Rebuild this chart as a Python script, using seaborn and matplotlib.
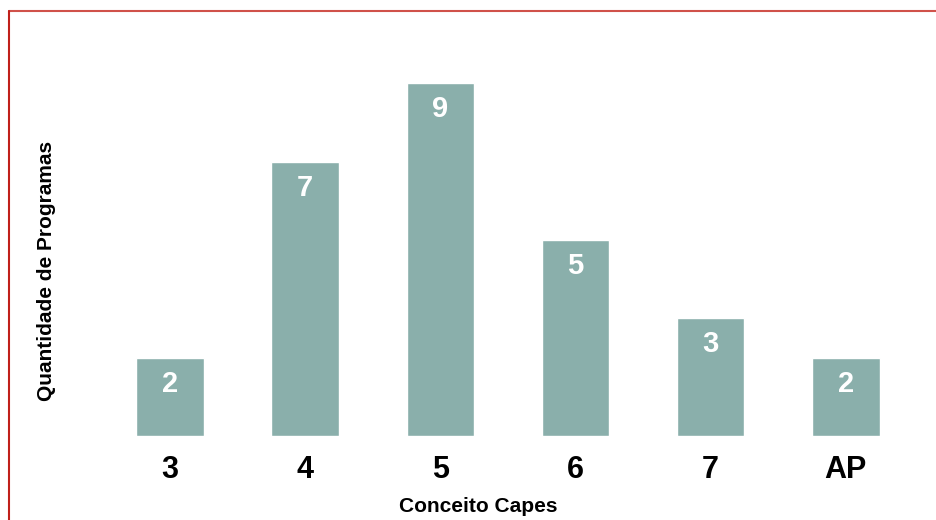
import matplotlib
matplotlib.use("Agg")
import matplotlib.pyplot as plt
import seaborn as sns
import pandas as pd
from matplotlib.lines import Line2D

categories = ["3", "4", "5", "6", "7", "AP"]
values = [2, 7, 9, 5, 3, 2]

sns.set_theme(style="white")
plt.rcParams["font.family"] = ["Liberation Sans", "DejaVu Sans"]

df = pd.DataFrame({"Conceito": categories, "Quantidade": values})

fig = plt.figure(figsize=(9.36, 5.2), dpi=100)
ax = fig.add_axes([102.4 / 936, (520 - 436) / 520, 811 / 936, 392 / 520])
sns.barplot(data=df, x="Conceito", y="Quantidade", color="#8aafab",
            saturation=1, width=0.5, ax=ax)
ax.set_xlim(-0.5, 5.5)
ax.set_ylim(0, 10)
ax.set_yticks([])
for s in ax.spines.values():
    s.set_visible(False)
ax.tick_params(axis="x", length=0, pad=14, labelsize=22)
for lbl in ax.get_xticklabels():
    lbl.set_fontweight("bold")
    lbl.set_color("black")

for p, v in zip(ax.patches, values):
    ax.annotate(str(v), (p.get_x() + p.get_width() / 2, p.get_height()),
                xytext=(0, -24.5), textcoords="offset points", ha="center",
                va="baseline", color="white", fontsize=21, fontweight="bold")

ax.set_xlabel("")
ax.set_ylabel("")
fig.text(478 / 936, 1 - 507 / 520, "Conceito Capes", ha="center", va="center",
         fontsize=15, fontweight="bold", color="black")
fig.text(47 / 936, 1 - 271 / 520, "Quantidade de Programas", ha="center", va="center",
         rotation=90, fontsize=15, fontweight="bold", color="black")

fig.add_artist(Line2D([8.5 / 936, 1], [1 - 10.5 / 520, 1 - 10.5 / 520],
                      transform=fig.transFigure, color="#d0524a", lw=1.5))
fig.add_artist(Line2D([8.5 / 936, 8.5 / 936], [0, 1 - 10.5 / 520],
                      transform=fig.transFigure, color="#c0201a", lw=1.5))

fig.savefig("out.png", dpi=100)
